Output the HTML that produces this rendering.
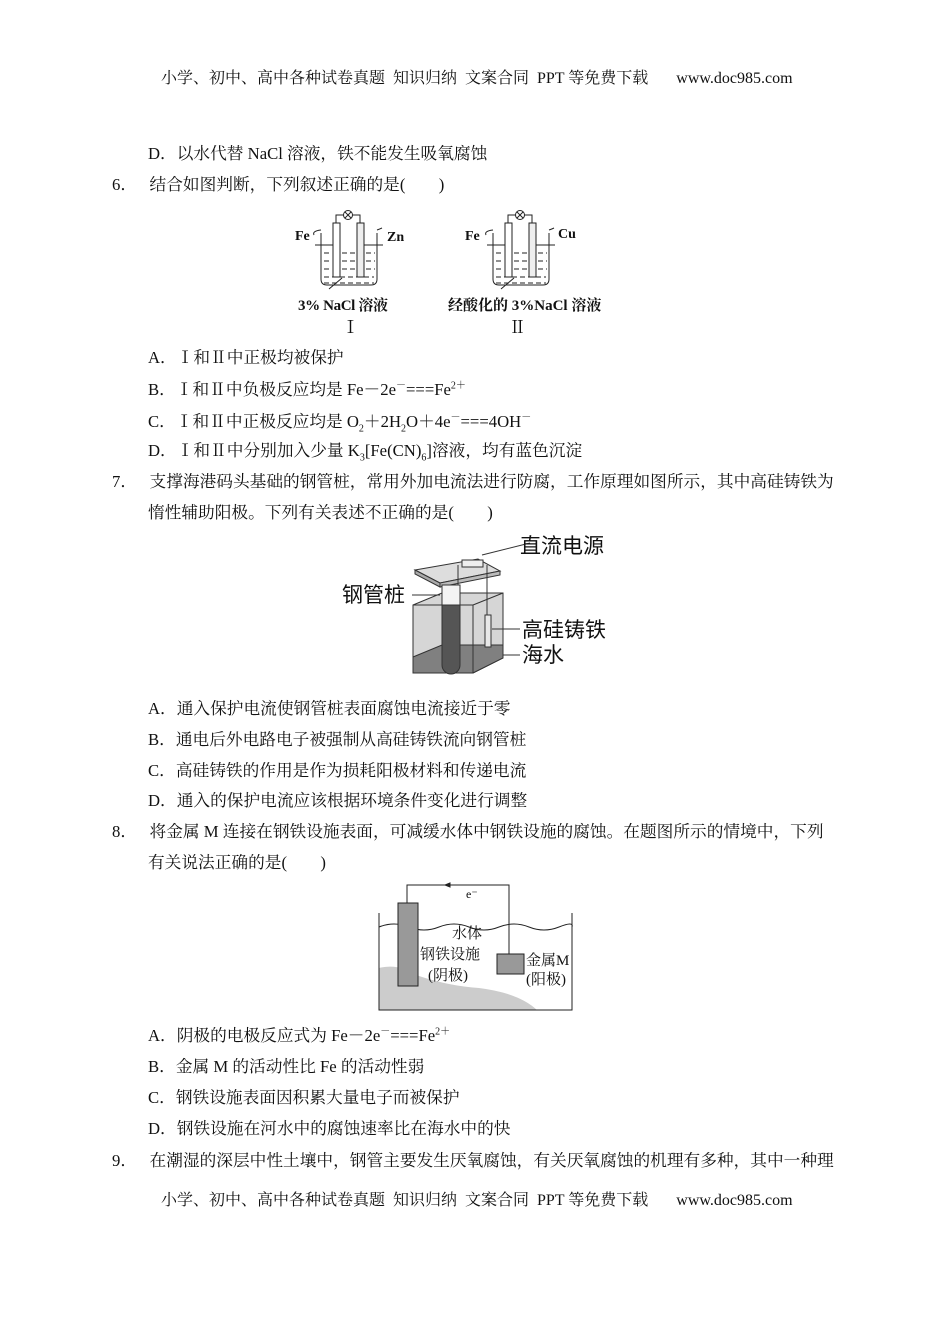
<!DOCTYPE html>
<html><head><meta charset="utf-8"><style>
body{margin:0;background:#fff;}
#p{position:relative;width:950px;height:1344px;font-family:"Liberation Serif","Noto Serif CJK SC",serif;font-size:16.7px;color:#111;}
.t{position:absolute;white-space:nowrap;line-height:20px;}
sup,sub{font-size:10px;line-height:0;}
.h{font-size:16px;}
</style></head><body><div id="p">
<div class="t h" style="left:161px;top:69px">小学、初中、高中各种试卷真题&nbsp; 知识归纳&nbsp; 文案合同&nbsp; PPT 等免费下载&nbsp;&nbsp;&nbsp;&nbsp;&nbsp;&nbsp; www.doc985.com</div>
<div class="t" style="left:148px;top:144px">D．以水代替 NaCl 溶液，铁不能发生吸氧腐蚀</div>
<div class="t" style="left:112px;top:175px">6．&nbsp;&nbsp; 结合如图判断，下列叙述正确的是(　　)</div>

<svg style="position:absolute;left:280px;top:200px" width="340" height="140" viewBox="0 0 340 140" font-family="Liberation Serif,Noto Serif CJK SC,serif" font-weight="bold">
<defs><g id="b1" fill="none" stroke="#222" stroke-width="1">
<path d="M41 33 v46 q0 6 6 6 h44 q6 0 6-6 v-46"/>
<path d="M34 35 q-2 -4 7 -5"/><path d="M97 30 q3 -1 5 -2"/>
<line x1="35" y1="45" x2="60" y2="45"/><line x1="83" y1="45" x2="103" y2="45"/>
<rect x="53" y="23" width="7" height="54" fill="#fff"/><rect x="77" y="23" width="7" height="54" fill="#eee"/>
<path d="M56 23 v-8 h8"/><path d="M80 23 v-8 h-8"/><circle cx="68" cy="15" r="4.5"/>
<line x1="65" y1="12" x2="71" y2="18"/><line x1="71" y1="12" x2="65" y2="18"/>
<path d="M44 53h8M62 53h14M86 53h9M44 61h8M62 61h14M86 61h9M44 69h8M62 69h14M86 69h9M44 77h50M44 83h50" stroke-dasharray="5 3"/>
<line x1="49" y1="89" x2="62" y2="78"/>
</g></defs>
<use href="#b1"/><use href="#b1" x="172"/>
<g font-size="14" fill="#111">
<text x="15" y="40">Fe</text><text x="107" y="41">Zn</text>
<text x="185" y="40">Fe</text><text x="278" y="38">Cu</text>
<text x="18" y="110" font-size="15" textLength="90">3% NaCl 溶液</text><text x="168" y="110" font-size="15">经酸化的 3%NaCl 溶液</text>
<text x="62" y="133" font-weight="normal" font-size="17">Ⅰ</text><text x="229" y="133" font-weight="normal" font-size="17">Ⅱ</text>
</g></svg>

<div class="t" style="left:148px;top:348px">A．Ⅰ和Ⅱ中正极均被保护</div>
<div class="t" style="left:148px;top:380px">B．Ⅰ和Ⅱ中负极反应均是 Fe－2e<sup>－</sup>===Fe<sup>2＋</sup></div>
<div class="t" style="left:148px;top:412px">C．Ⅰ和Ⅱ中正极反应均是 O<sub>2</sub>＋2H<sub>2</sub>O＋4e<sup>－</sup>===4OH<sup>－</sup></div>
<div class="t" style="left:148px;top:441px">D．Ⅰ和Ⅱ中分别加入少量 K<sub>3</sub>[Fe(CN)<sub>6</sub>]溶液，均有蓝色沉淀</div>
<div class="t" style="left:112px;top:472px">7．&nbsp;&nbsp; 支撑海港码头基础的钢管桩，常用外加电流法进行防腐，工作原理如图所示，其中高硅铸铁为</div>
<div class="t" style="left:148px;top:503px">惰性辅助阳极。下列有关表述不正确的是(　　)</div>

<svg style="position:absolute;left:340px;top:525px" width="280" height="160" viewBox="0 0 280 160" font-family="Liberation Sans,Noto Sans CJK SC,sans-serif">
<g stroke="#333" stroke-width="1">
<polygon points="73,80 102,68 163,68 163,133 133,148 73,148" fill="#d6d6d6"/>
<polygon points="73,132 102,120 163,120 163,133 133,148 73,148" fill="#808080"/>
<line x1="102" y1="68" x2="102" y2="120" /><line x1="73" y1="80" x2="133" y2="80"/><line x1="133" y1="80" x2="163" y2="68"/>
<line x1="133" y1="80" x2="133" y2="148"/>
<polygon points="75,45 138,34 160,46 100,58" fill="#ddd"/>
<polygon points="75,45 100,58 100,62 75,49" fill="#aaa"/>
<polygon points="100,58 160,46 160,50 100,62" fill="#bbb"/>
<rect x="122" y="35" width="21" height="7" fill="#eee"/>
<rect x="102" y="60" width="18" height="20" fill="#f4f4f4"/>
<path d="M102 80 v60 a9 9 0 0 0 18 0 v-60z" fill="#555"/>
<line x1="118" y1="40" x2="118" y2="60"/><line x1="147" y1="40" x2="147" y2="90"/>
<rect x="145" y="90" width="6" height="32" fill="#e8e8e8"/>
<line x1="142" y1="30" x2="190" y2="18"/><line x1="72" y1="70" x2="100" y2="70"/>
<line x1="152" y1="104" x2="180" y2="104"/><line x1="163" y1="130" x2="180" y2="130"/>
</g>
<g font-size="21" fill="#111"><text x="180" y="28">直流电源</text><text x="2" y="77">钢管桩</text><text x="182" y="112">高硅铸铁</text><text x="182" y="137">海水</text></g>
</svg>

<div class="t" style="left:148px;top:699px">A．通入保护电流使钢管桩表面腐蚀电流接近于零</div>
<div class="t" style="left:148px;top:730px">B．通电后外电路电子被强制从高硅铸铁流向钢管桩</div>
<div class="t" style="left:148px;top:761px">C．高硅铸铁的作用是作为损耗阳极材料和传递电流</div>
<div class="t" style="left:148px;top:791px">D．通入的保护电流应该根据环境条件变化进行调整</div>
<div class="t" style="left:112px;top:822px">8．&nbsp;&nbsp; 将金属 M 连接在钢铁设施表面，可减缓水体中钢铁设施的腐蚀。在题图所示的情境中，下列</div>
<div class="t" style="left:148px;top:853px">有关说法正确的是(　　)</div>

<svg style="position:absolute;left:370px;top:875px" width="210" height="145" viewBox="0 0 210 145" font-family="Liberation Serif,Noto Serif CJK SC,serif">
<path d="M9 93 q20 -5 40 8 q30 10 60 12 q40 5 58 22 h-158z" fill="#ccc"/>
<g fill="none" stroke="#222" stroke-width="1">
<path d="M9 38 v97 h193 v-97"/>
<path d="M9 52 q15 -6 30 0 t30 0 t30 0 t30 0 t30 0 t30 0 t13 0"/>
<path d="M37 28 v-18 h102 v69"/>
<polygon points="80,8 75,10 80,12" fill="#222"/>
</g>
<rect x="28" y="28" width="20" height="83" fill="#999" stroke="#222"/>
<rect x="127" y="79" width="27" height="20" fill="#999" stroke="#222"/>
<g font-size="15" fill="#111"><text x="96" y="23" font-size="12">e⁻</text><text x="82" y="63">水体</text><text x="50" y="84">钢铁设施</text><text x="58" y="105">(阴极)</text><text x="156" y="90">金属M</text><text x="156" y="109">(阳极)</text></g>
</svg>

<div class="t" style="left:148px;top:1026px">A．阴极的电极反应式为 Fe－2e<sup>－</sup>===Fe<sup>2＋</sup></div>
<div class="t" style="left:148px;top:1057px">B．金属 M 的活动性比 Fe 的活动性弱</div>
<div class="t" style="left:148px;top:1088px">C．钢铁设施表面因积累大量电子而被保护</div>
<div class="t" style="left:148px;top:1119px">D．钢铁设施在河水中的腐蚀速率比在海水中的快</div>
<div class="t" style="left:112px;top:1151px">9．&nbsp;&nbsp; 在潮湿的深层中性土壤中，钢管主要发生厌氧腐蚀，有关厌氧腐蚀的机理有多种，其中一种理</div>
<div class="t h" style="left:161px;top:1191px">小学、初中、高中各种试卷真题&nbsp; 知识归纳&nbsp; 文案合同&nbsp; PPT 等免费下载&nbsp;&nbsp;&nbsp;&nbsp;&nbsp;&nbsp; www.doc985.com</div>
</div></body></html>
